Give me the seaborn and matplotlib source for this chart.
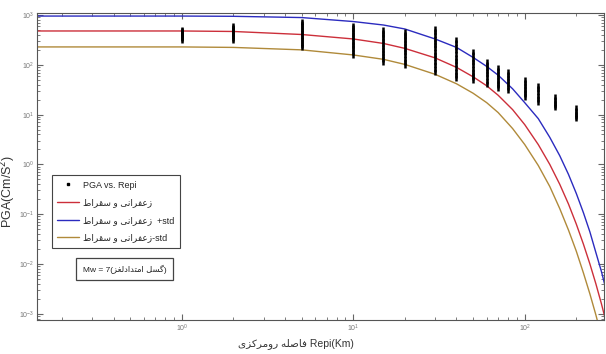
import numpy as np
import pandas as pd
import matplotlib
matplotlib.use('Agg')
import matplotlib.pyplot as plt
from matplotlib.lines import Line2D
import seaborn as sns

# Fasele (km) va PGA (cm/s^2) - khande shode az tasvir
dist_curve = [0.14, 0.5, 1, 2, 5, 10, 15, 20, 30, 40, 50, 60, 70, 85, 100,
              120, 140, 160, 180, 200, 220, 240, 260, 280, 300]
pga_mean = [479, 479, 479, 468, 407, 331, 269, 214, 138, 89, 57.5, 38, 24.5, 12.6, 6.3,
            2.5, 1.0, 0.40, 0.16, 0.063, 0.025, 0.010, 0.004, 0.0016, 0.00063]
pga_plus = [955, 955, 955, 944, 891, 741, 631, 525, 331, 224, 141, 93, 62, 33, 17.4,
            8.3, 3.5, 1.5, 0.63, 0.26, 0.107, 0.044, 0.017, 0.0071, 0.0028]
dist_minus = [0.14, 0.5, 1, 2, 5, 10, 15, 20, 30, 40, 50, 60, 70, 85, 100,
              120, 140, 160, 180, 200, 220, 240, 260, 280]
pga_minus = [229, 229, 229, 224, 200, 158, 129, 102, 64.6, 41.7, 26.9, 17.4, 11.0, 5.25, 2.51,
             0.95, 0.36, 0.13, 0.048, 0.018, 0.0066, 0.0025, 0.00095, 0.00036]

# Dadehaye sabt shode (PGA vs. Repi)
dist_obs = [1, 2, 5, 10, 15, 20, 30, 40, 50, 60, 70, 80, 100, 120, 150, 200]
pga_obs = [
    [500, 470, 440, 415, 390, 365, 340, 315],
    [600, 560, 520, 480, 445, 410, 380, 350, 315],
    [720, 650, 590, 530, 480, 430, 385, 345, 310, 280, 250, 228],
    [600, 540, 480, 430, 385, 340, 300, 265, 235, 205, 180, 157],
    [500, 440, 390, 345, 300, 265, 230, 200, 175, 150, 130, 114],
    [455, 400, 355, 310, 270, 235, 205, 178, 155, 133, 115, 99],
    [520, 450, 390, 335, 290, 250, 215, 185, 158, 135, 115, 98, 83, 71],
    [315, 270, 230, 195, 165, 140, 120, 102, 86, 73, 63, 54],
    [180, 155, 133, 114, 98, 84, 72, 62, 56, 50],
    [114, 98, 85, 74, 64, 56, 48, 41],
    [86, 75, 65, 57, 50, 44, 39, 34],
    [71, 62, 54, 47, 41, 36, 31],
    [50, 44, 38, 33, 29, 25.5, 22.5],
    [37, 32, 28, 24, 21, 18],
    [22.5, 20, 17.5, 15.5, 14],
    [13.6, 12, 10.5, 9.5, 8.5],
]

# shekl-dadan be horoof farsi (matplotlib shaping nadarad)
FORMS = {
    'ا': ('\uFE8D', '\uFE8E', None, None),
    'د': ('\uFEA9', '\uFEAA', None, None),
    'ر': ('\uFEAD', '\uFEAE', None, None),
    'ز': ('\uFEAF', '\uFEB0', None, None),
    'و': ('\uFEED', '\uFEEE', None, None),
    'ت': ('\uFE95', '\uFE96', '\uFE97', '\uFE98'),
    'س': ('\uFEB1', '\uFEB2', '\uFEB3', '\uFEB4'),
    'ص': ('\uFEB9', '\uFEBA', '\uFEBB', '\uFEBC'),
    'ط': ('\uFEC1', '\uFEC2', '\uFEC3', '\uFEC4'),
    'ع': ('\uFEC9', '\uFECA', '\uFECB', '\uFECC'),
    'غ': ('\uFECD', '\uFECE', '\uFECF', '\uFED0'),
    'ف': ('\uFED1', '\uFED2', '\uFED3', '\uFED4'),
    'ق': ('\uFED5', '\uFED6', '\uFED7', '\uFED8'),
    'ل': ('\uFEDD', '\uFEDE', '\uFEDF', '\uFEE0'),
    'م': ('\uFEE1', '\uFEE2', '\uFEE3', '\uFEE4'),
    'ن': ('\uFEE5', '\uFEE6', '\uFEE7', '\uFEE8'),
    'ه': ('\uFEE9', '\uFEEA', '\uFEEB', '\uFEEC'),
    'ک': ('\uFB8E', '\uFB8F', '\uFB90', '\uFB91'),
    'گ': ('\uFB92', '\uFB93', '\uFB94', '\uFB95'),
    'ی': ('\uFBFC', '\uFBFD', '\uFBFE', '\uFBFF'),
}


def farsi(s):
    out = []
    for i, ch in enumerate(s):
        if ch not in FORMS:
            out.append(ch)
            continue
        prev = s[i - 1] if i > 0 else ''
        nxt = s[i + 1] if i + 1 < len(s) else ''
        iso, fin, ini, med = FORMS[ch]
        j_prev = prev in FORMS and FORMS[prev][2] is not None
        j_next = nxt in FORMS and ini is not None
        if j_prev and j_next:
            out.append(med)
        elif j_prev:
            out.append(fin)
        elif j_next:
            out.append(ini)
        else:
            out.append(iso)
    return ''.join(reversed(out))


obs = pd.DataFrame({
    'Repi': [d for d, vals in zip(dist_obs, pga_obs) for _ in vals],
    'PGA': [v for vals in pga_obs for v in vals],
})

sns.set_style('ticks')
plt.rcParams['font.family'] = ['Liberation Sans', 'DejaVu Sans']

fig = plt.figure(figsize=(6.06, 3.54), dpi=100)
ax = fig.add_axes([37 / 606, 1 - 320 / 354, 567 / 606, 307 / 354])

c_red, c_blue, c_gold = '#cc2f3a', '#2b2bbf', '#b08a3a'
sns.scatterplot(data=obs, x='Repi', y='PGA', ax=ax, color='black', marker='|',
                s=16, linewidth=1.8, zorder=5)
sns.lineplot(x=dist_curve, y=pga_mean, ax=ax, color=c_red, lw=1.0)
sns.lineplot(x=dist_curve, y=pga_plus, ax=ax, color=c_blue, lw=1.0)
sns.lineplot(x=dist_minus, y=pga_minus, ax=ax, color=c_gold, lw=1.0)

ax.set_xscale('log')
ax.set_yscale('log')
ax.set_xlim(0.143, 290)
ax.set_ylim(7.5e-4, 1.1e3)

ax.tick_params(which='both', direction='in', top=True, right=True, color='#666666',
               labelsize=5, labelcolor='#777777', pad=2)
ax.tick_params(which='major', length=4)
ax.tick_params(which='minor', length=2)
for sp in ax.spines.values():
    sp.set_color('#555555')
    sp.set_linewidth(0.8)

ax.set_xlabel(farsi('فاصله رومرکزی') + ' Repi(Km)', fontsize=7.5, color='#333333')
ax.xaxis.set_label_coords(0.457, -0.058)
ax.set_ylabel('PGA(Cm/S$^2$)', fontsize=9, color='#333333')
ax.yaxis.set_label_coords(-0.033, 0.42)

name = farsi('زعفرانی و سقراط')
handles = [
    Line2D([], [], ls='none', marker='s', ms=1.6, color='black'),
    Line2D([], [], color=c_red, lw=1.0),
    Line2D([], [], color=c_blue, lw=1.0),
    Line2D([], [], color=c_gold, lw=1.0),
]
labels = ['PGA vs. Repi', name, name + '  +std', name + '-std']
leg = ax.legend(handles, labels, loc='upper left', bbox_to_anchor=(0.026, 0.472),
                borderaxespad=0, fontsize=6.5, handlelength=2.4, handletextpad=0.5,
                labelspacing=0.95, borderpad=0.6,
                fancybox=False, framealpha=1, edgecolor='#444444')
leg.get_frame().set_linewidth(0.8)

ax.text(0.155, 0.166, 'Mw = 7(' + farsi('گسل امتدادلغز') + ')', transform=ax.transAxes,
        fontsize=6, ha='center', va='center', color='#222222',
        bbox=dict(boxstyle='square,pad=0.8', fc='white', ec='#444444', lw=0.9))

fig.savefig('out.png', dpi=100)
